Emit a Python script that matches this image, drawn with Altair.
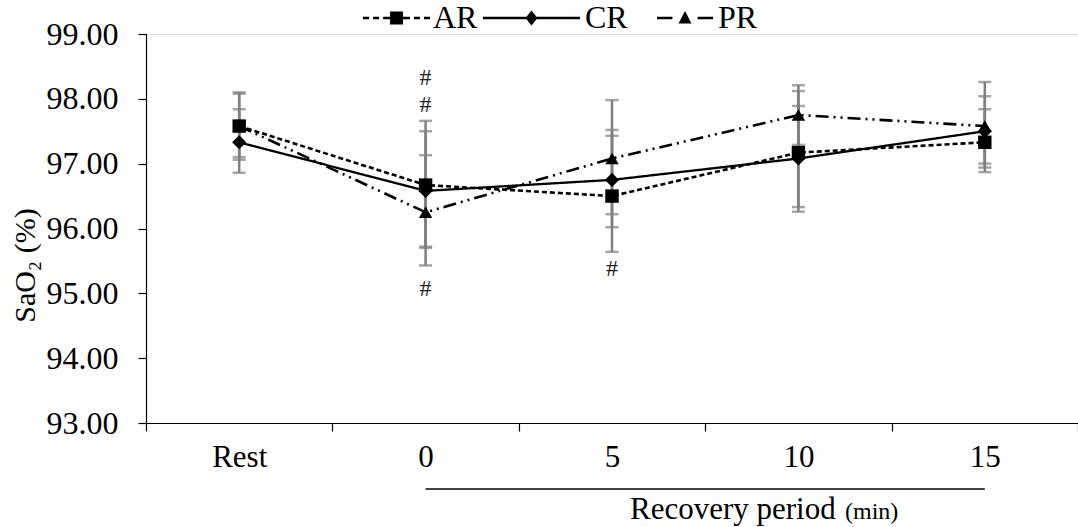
import altair as alt
import pandas as pd

# ---- data ----
categories = ["Rest", "0", "5", "10", "15"]
series = ["AR", "CR", "PR"]

ar_mean = [97.58, 96.67, 96.50, 97.17, 97.33]
cr_mean = [97.33, 96.58, 96.75, 97.08, 97.50]
pr_mean = [97.58, 96.25, 97.08, 97.75, 97.58]

ar_hi = [98.10, 97.66, 97.43, 98.12, 97.84]
ar_lo = [97.06, 95.72, 95.64, 96.26, 96.87]
cr_hi = [97.84, 97.50, 97.52, 97.89, 98.04]
cr_lo = [96.86, 95.70, 96.02, 96.33, 96.94]
pr_hi = [98.08, 97.13, 97.98, 98.21, 98.26]
pr_lo = [97.10, 95.43, 96.22, 97.29, 97.00]

hash_cats = ["0", "0", "0", "5"]
hash_vals = [98.32, 97.90, 95.07, 95.38]
hash_text = ["#", "#", "#", "#"]

y_ticks = [93, 94, 95, 96, 97, 98, 99]

FONT = "Liberation Serif"

rows = []
for s, m, hi, lo in [("AR", ar_mean, ar_hi, ar_lo),
                     ("CR", cr_mean, cr_hi, cr_lo),
                     ("PR", pr_mean, pr_hi, pr_lo)]:
    for c, mv, h, l in zip(categories, m, hi, lo):
        rows.append({"series": s, "cat": c, "mean": mv, "hi": h, "lo": l})
df = pd.DataFrame(rows)

hash_df = pd.DataFrame({"cat": hash_cats, "val": hash_vals, "t": hash_text})
under_df = pd.DataFrame({"c1": [categories[1]], "c2": [categories[-1]]})
title_df = pd.DataFrame({"t": ["Recovery period"], "u": ["(min)"]})

x_enc = alt.X("cat:N", sort=categories,
              scale=alt.Scale(domain=categories, paddingInner=0, paddingOuter=0),
              axis=alt.Axis(title=None, labelAngle=0, tickBand="extent",
                            labelFont=FONT, labelFontSize=31, labelColor="black",
                            labelBaseline="alphabetic", labelPadding=35,
                            tickSize=8, tickColor="black", domainColor="black",
                            domainWidth=1.2, tickWidth=1.2))
y_scale = alt.Scale(domain=[93, 99], nice=False, zero=False)
y_axis = alt.Axis(values=y_ticks, format=".2f", grid=False,
                  labelFont=FONT, labelFontSize=32, labelColor="black",
                  labelPadding=20, tickSize=8, tickColor="black",
                  domainColor="black", domainWidth=1.2, tickWidth=1.2,
                  title="SaO₂ (%)", titleFont=FONT, titleFontSize=30,
                  titleFontWeight="normal", titleColor="black",
                  titleAngle=-90, titleX=-112, titleY=231,
                  titleAlign="center", titleBaseline="alphabetic")

base = alt.Chart(df)

err = base.mark_rule(color="#7f7f7f", strokeWidth=2.5).encode(
    x=x_enc, y=alt.Y("lo:Q", scale=y_scale, axis=y_axis), y2="hi:Q")
cap_hi = base.mark_tick(color="#7f7f7f", thickness=2.5, size=13, orient="horizontal").encode(
    x=alt.X("cat:N", sort=categories), y=alt.Y("hi:Q"))
cap_lo = base.mark_tick(color="#7f7f7f", thickness=2.5, size=13, orient="horizontal").encode(
    x=alt.X("cat:N", sort=categories), y=alt.Y("lo:Q"))

styles = {
    "AR": dict(dash=[5, 3], width=2.6, shape="square", size=180),
    "CR": dict(dash=[1, 0], width=2.3, shape="diamond", size=200),
    "PR": dict(dash=[13, 5, 2, 5, 2, 5], width=2.6, shape="triangle-up", size=180),
}

lines = []
points = []
for s in series:
    st = styles[s]
    sub = base.transform_filter(alt.datum.series == s)
    lines.append(sub.mark_line(color="black", strokeWidth=st["width"],
                               strokeDash=st["dash"]).encode(
        x=alt.X("cat:N", sort=categories), y=alt.Y("mean:Q")))
    points.append(sub.mark_point(color="black", filled=True, opacity=1,
                                 shape=st["shape"], size=st["size"]).encode(
        x=alt.X("cat:N", sort=categories), y=alt.Y("mean:Q")))

hashes = alt.Chart(hash_df).mark_text(font=FONT, fontSize=24, color="#222222",
                                      baseline="middle").encode(
    x=alt.X("cat:N", sort=categories), y=alt.Y("val:Q"), text="t:N")

underline = alt.Chart(under_df).mark_rule(color="black", strokeWidth=1.5).encode(
    x=alt.X("c1:N", sort=categories), x2="c2:N", y=alt.value(455))

title_main = alt.Chart(title_df).mark_text(font=FONT, fontSize=31, color="black",
                                           align="left", baseline="alphabetic").encode(
    x=alt.value(484), y=alt.value(485), text="t:N")
title_unit = alt.Chart(title_df).mark_text(font=FONT, fontSize=24, color="black",
                                           align="left", baseline="alphabetic").encode(
    x=alt.value(699), y=alt.value(485), text="u:N")


# legend symbols: line segments drawn as thin filled bars + the marker
def seg(a, b, h):
    return f"M{a},{-h}H{b}V{h}H{a}Z"


def unit(px, w):
    return round(px / (w / 2), 3)


# symbol widths (px) of each legend entry
W_AR, W_CR, W_PR = 67, 97, 56

hA = unit(1.3, W_AR)
sq = unit(6.5, W_AR)
path_ar = (seg(-1, -0.82, hA) + seg(-0.7, -0.52, hA) + seg(-0.4, -sq, hA)
           + f"M{-sq},{-sq}H{sq}V{sq}H{-sq}Z"
           + seg(sq, 0.4, hA) + seg(0.52, 0.7, hA) + seg(0.82, 1, hA))

hC = unit(1.2, W_CR)
dx, dy = unit(6, W_CR), unit(7.5, W_CR)
path_cr = seg(-1, 1, hC) + f"M0,{-dy}L{dx},0L0,{dy}L{-dx},0Z"

hP = unit(1.3, W_PR)
tx, ty1, ty2 = unit(6.5, W_PR), unit(7, W_PR), unit(5.5, W_PR)
path_pr = (seg(-1, -0.45, hP) + f"M0,{-ty1}L{tx},{ty2}L{-tx},{ty2}Z"
           + seg(0.45, 1, hP))

legend_spec = [
    ("AR", path_ar, W_AR, 217, 3),
    ("CR", path_cr, W_CR, 337, 5),
    ("PR", path_pr, W_PR, 511, 5),
]

legend_layers = []
for name, path, w, lx, off in legend_spec:
    legend_layers.append(
        base.transform_filter("false").mark_point(
            filled=True, color="black", opacity=1).encode(
            x=alt.X("cat:N", sort=categories), y=alt.Y("mean:Q"),
            shape=alt.Shape("series:N",
                            scale=alt.Scale(domain=[name], range=[path]),
                            legend=alt.Legend(title=None, orient="none",
                                              direction="horizontal",
                                              legendX=lx, legendY=18 - w / 2 - 34,
                                              symbolSize=w * w, symbolStrokeWidth=0,
                                              symbolFillColor="black",
                                              symbolOpacity=1,
                                              labelFont=FONT, labelFontSize=32,
                                              labelColor="black", labelOffset=off))))

chart = alt.layer(err, cap_hi, cap_lo, *lines, *points, hashes, underline,
                  title_main, title_unit, *legend_layers).resolve_scale(
    shape="independent").resolve_legend(shape="independent").properties(
    width=932, height=389,
    autosize=alt.AutoSizeParams(type="none"),
    padding={"left": 146, "top": 34, "right": 0, "bottom": 104},
).configure_view(stroke=None).configure(background="white")

chart.save("out.html", embed_options={"renderer": "svg", "actions": False})
